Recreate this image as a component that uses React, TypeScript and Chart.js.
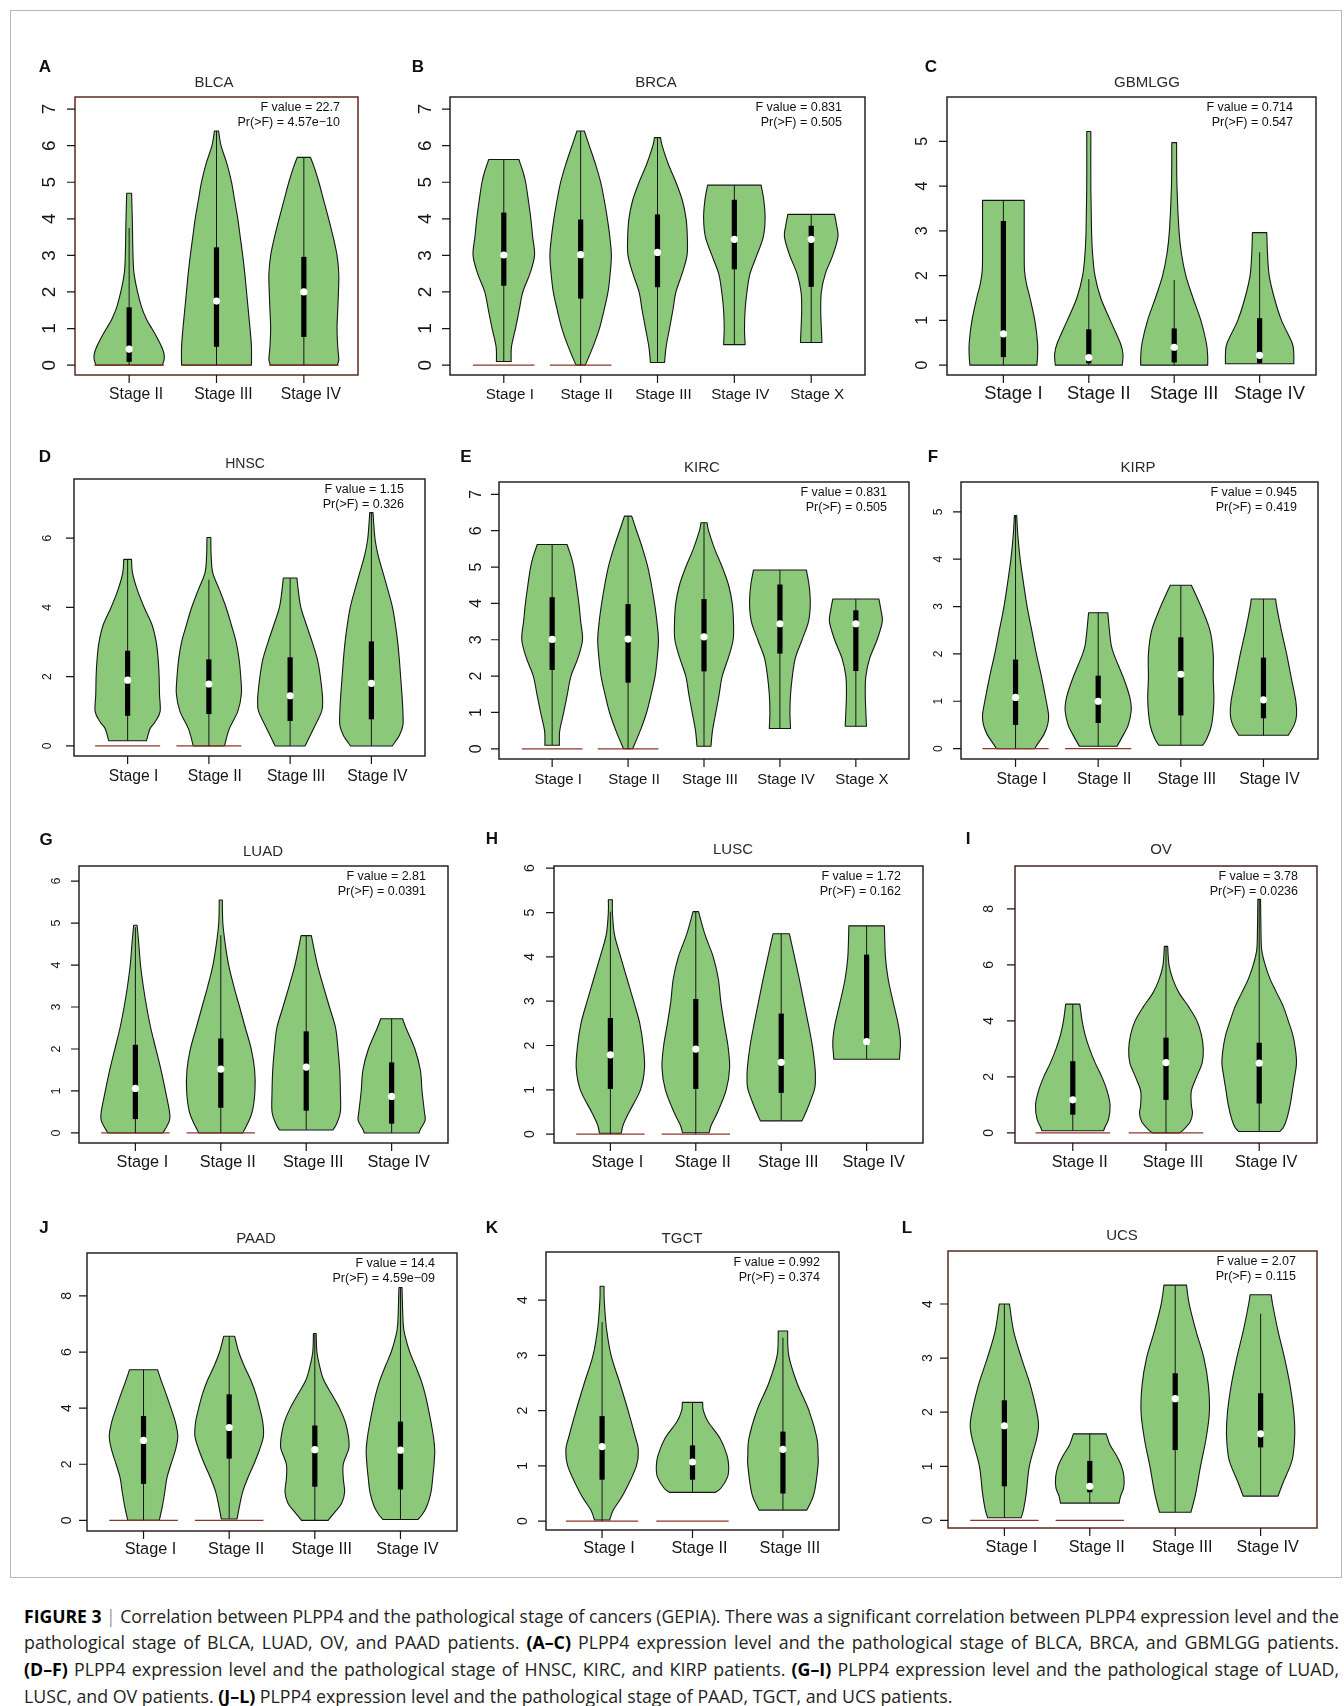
import React, { useEffect, useLayoutEffect, useRef } from 'react';
import { Chart, registerables } from 'chart.js';

Chart.register(...registerables);

type Profile = [number, number][];

// ---------- BLCA ----------
const BLCA_STAGES = ['Stage II', 'Stage III', 'Stage IV'];
const BLCA_Y_TICKS = [0, 1, 2, 3, 4, 5, 6, 7];
const BLCA_MEDIAN = [0.44, 1.75, 2.0];
const BLCA_Q1 = [0.09, 0.5, 0.77];
const BLCA_Q3 = [1.58, 3.22, 2.96];
const BLCA_LOW = [0, 0, 0];
const BLCA_HIGH = [3.75, 6.4, 5.68];
const BLCA_ZERO = [true, true, true];
const BLCA_DENSITY: Profile[] = [
  [[0, 0.95], [0.15, 1.0], [0.3, 1.0], [0.5, 0.93], [0.75, 0.8], [1.0, 0.65], [1.25, 0.5], [1.57, 0.36], [2.0, 0.24], [2.5, 0.14], [3.0, 0.11], [4.0, 0.09], [4.7, 0.07]],
  [[0, 1.0], [0.5, 1.0], [1, 0.96], [1.5, 0.91], [2, 0.86], [2.5, 0.81], [3, 0.75], [3.5, 0.68], [4, 0.61], [4.5, 0.52], [5, 0.43], [5.5, 0.3], [6, 0.13], [6.4, 0.06]],
  [[0, 0.95], [0.15, 1.0], [0.5, 0.97], [1, 0.95], [1.5, 0.97], [2, 0.99], [2.5, 1.0], [3, 0.95], [3.5, 0.84], [4, 0.71], [4.5, 0.57], [5, 0.43], [5.4, 0.3], [5.68, 0.19]],
];
const BLCA_STATS = ['F value = 22.7', 'Pr(>F) = 4.57e\u221210'];

// ---------- BRCA ----------
const BRCA_STAGES = ['Stage I', 'Stage II', 'Stage III', 'Stage IV', 'Stage X'];
const BRCA_Y_TICKS = [0, 1, 2, 3, 4, 5, 6, 7];
const BRCA_MEDIAN = [3.01, 3.02, 3.08, 3.44, 3.44];
const BRCA_Q1 = [2.17, 1.82, 2.13, 2.62, 2.14];
const BRCA_Q3 = [4.17, 3.98, 4.12, 4.52, 3.81];
const BRCA_LOW = [0.1, 0, 0.07, 0.56, 0.62];
const BRCA_HIGH = [5.62, 6.4, 6.22, 4.92, 4.12];
const BRCA_ZERO = [true, true, false, false, false];
const BRCA_DENSITY: Profile[] = [
  [[0.1, 0.24], [0.5, 0.25], [1, 0.38], [1.5, 0.5], [2, 0.62], [2.5, 0.85], [3, 1.0], [3.5, 0.94], [4, 0.88], [4.5, 0.8], [5, 0.71], [5.3, 0.62], [5.62, 0.49]],
  [[0, 0.15], [0.5, 0.4], [1, 0.61], [1.5, 0.76], [2, 0.89], [2.5, 0.96], [3, 1.0], [3.5, 0.95], [4, 0.87], [4.5, 0.77], [5, 0.65], [5.5, 0.48], [6, 0.28], [6.4, 0.12]],
  [[0.07, 0.23], [0.5, 0.28], [1, 0.39], [1.5, 0.5], [2, 0.6], [2.5, 0.8], [3, 0.96], [3.5, 0.97], [4, 0.93], [4.5, 0.81], [5, 0.6], [5.5, 0.35], [6, 0.15], [6.22, 0.1]],
  [[0.56, 0.35], [1, 0.33], [1.5, 0.35], [2, 0.41], [2.5, 0.51], [3, 0.73], [3.5, 0.94], [4, 1.0], [4.5, 0.96], [4.92, 0.87]],
  [[0.62, 0.35], [1, 0.33], [1.5, 0.31], [2, 0.33], [2.5, 0.46], [3, 0.7], [3.5, 0.87], [3.8, 0.83], [4.12, 0.76]],
];
const BRCA_STATS = ['F value = 0.831', 'Pr(>F) = 0.505'];

// ---------- GBMLGG ----------
const GBMLGG_STAGES = ['Stage I', 'Stage II', 'Stage III', 'Stage IV'];
const GBMLGG_Y_TICKS = [0, 1, 2, 3, 4, 5];
const GBMLGG_MEDIAN = [0.7, 0.17, 0.4, 0.22];
const GBMLGG_Q1 = [0.18, 0.04, 0.06, 0.05];
const GBMLGG_Q3 = [3.22, 0.8, 0.82, 1.05];
const GBMLGG_LOW = [0, 0, 0, 0.03];
const GBMLGG_HIGH = [3.68, 1.92, 1.9, 2.52];
const GBMLGG_ZERO = [false, false, false, false];
const GBMLGG_DENSITY: Profile[] = [
  [[0, 0.98], [0.2, 1.0], [0.5, 1.0], [1, 0.92], [1.5, 0.78], [1.8, 0.68], [2.1, 0.62], [2.5, 0.61], [3, 0.61], [3.68, 0.61]],
  [[0, 0.98], [0.25, 1.0], [0.5, 0.92], [1, 0.63], [1.5, 0.35], [2, 0.18], [2.5, 0.11], [3, 0.08], [4, 0.06], [5.22, 0.06]],
  [[0, 0.98], [0.2, 0.98], [0.5, 0.94], [1, 0.78], [1.5, 0.55], [2, 0.34], [2.5, 0.21], [3, 0.14], [4, 0.08], [4.97, 0.07]],
  [[0.03, 1.0], [0.25, 1.0], [0.5, 0.95], [1, 0.64], [1.5, 0.43], [2, 0.28], [2.5, 0.23], [2.96, 0.21]],
];
const GBMLGG_STATS = ['F value = 0.714', 'Pr(>F) = 0.547'];

// ---------- HNSC ----------
const HNSC_STAGES = ['Stage I', 'Stage II', 'Stage III', 'Stage IV'];
const HNSC_Y_TICKS = [0, 2, 4, 6];
const HNSC_MEDIAN = [1.9, 1.79, 1.45, 1.81];
const HNSC_Q1 = [0.87, 0.92, 0.72, 0.77];
const HNSC_Q3 = [2.75, 2.5, 2.56, 3.02];
const HNSC_LOW = [0.15, 0, 0, 0];
const HNSC_HIGH = [5.39, 4.8, 4.85, 6.74];
const HNSC_ZERO = [true, true, false, false];
const HNSC_DENSITY: Profile[] = [
  [[0.15, 0.58], [0.5, 0.69], [0.7, 0.85], [1, 1.0], [1.5, 0.98], [2, 0.97], [2.5, 0.94], [3, 0.88], [3.5, 0.75], [4, 0.51], [4.5, 0.3], [5, 0.15], [5.39, 0.12]],
  [[0, 0.48], [0.5, 0.63], [1, 0.89], [1.5, 1.0], [2, 0.98], [2.5, 0.93], [3, 0.84], [3.5, 0.69], [4, 0.53], [4.5, 0.33], [5, 0.12], [5.5, 0.07], [6.02, 0.06]],
  [[0, 0.46], [0.5, 0.72], [1, 0.97], [1.3, 1.0], [1.5, 0.99], [2, 0.93], [2.5, 0.84], [3, 0.68], [3.5, 0.5], [4, 0.33], [4.5, 0.25], [4.85, 0.21]],
  [[0, 0.64], [0.3, 0.86], [0.6, 0.97], [1, 0.97], [1.5, 0.94], [2, 0.9], [2.5, 0.86], [3, 0.81], [3.5, 0.74], [4, 0.65], [4.5, 0.51], [5, 0.36], [5.5, 0.21], [6, 0.11], [6.74, 0.05]],
];
const HNSC_STATS = ['F value = 1.15', 'Pr(>F) = 0.326'];

// ---------- KIRC ----------
const KIRC_STAGES = ['Stage I', 'Stage II', 'Stage III', 'Stage IV', 'Stage X'];
const KIRC_Y_TICKS = [0, 1, 2, 3, 4, 5, 6, 7];
const KIRC_MEDIAN = [3.01, 3.02, 3.08, 3.44, 3.44];
const KIRC_Q1 = [2.17, 1.82, 2.13, 2.62, 2.14];
const KIRC_Q3 = [4.17, 3.98, 4.12, 4.52, 3.81];
const KIRC_LOW = [0.1, 0, 0.07, 0.56, 0.62];
const KIRC_HIGH = [5.62, 6.4, 6.22, 4.92, 4.12];
const KIRC_ZERO = [true, true, false, false, false];
const KIRC_DENSITY: Profile[] = [
  [[0.1, 0.24], [0.5, 0.25], [1, 0.38], [1.5, 0.5], [2, 0.62], [2.5, 0.85], [3, 1.0], [3.5, 0.94], [4, 0.88], [4.5, 0.8], [5, 0.71], [5.3, 0.62], [5.62, 0.49]],
  [[0, 0.15], [0.5, 0.4], [1, 0.61], [1.5, 0.76], [2, 0.89], [2.5, 0.96], [3, 1.0], [3.5, 0.95], [4, 0.87], [4.5, 0.77], [5, 0.65], [5.5, 0.48], [6, 0.28], [6.4, 0.12]],
  [[0.07, 0.23], [0.5, 0.28], [1, 0.39], [1.5, 0.5], [2, 0.6], [2.5, 0.8], [3, 0.96], [3.5, 0.97], [4, 0.93], [4.5, 0.81], [5, 0.6], [5.5, 0.35], [6, 0.15], [6.22, 0.1]],
  [[0.56, 0.35], [1, 0.33], [1.5, 0.35], [2, 0.41], [2.5, 0.51], [3, 0.73], [3.5, 0.94], [4, 1.0], [4.5, 0.96], [4.92, 0.87]],
  [[0.62, 0.35], [1, 0.33], [1.5, 0.31], [2, 0.33], [2.5, 0.46], [3, 0.7], [3.5, 0.87], [3.8, 0.83], [4.12, 0.76]],
];
const KIRC_STATS = ['F value = 0.831', 'Pr(>F) = 0.505'];

// ---------- KIRP ----------
const KIRP_STAGES = ['Stage I', 'Stage II', 'Stage III', 'Stage IV'];
const KIRP_Y_TICKS = [0, 1, 2, 3, 4, 5];
const KIRP_MEDIAN = [1.08, 1.0, 1.57, 1.03];
const KIRP_Q1 = [0.5, 0.54, 0.7, 0.64];
const KIRP_Q3 = [1.88, 1.54, 2.35, 1.92];
const KIRP_LOW = [0, 0.05, 0.07, 0.28];
const KIRP_HIGH = [4.92, 2.87, 3.45, 3.16];
const KIRP_ZERO = [true, true, false, false];
const KIRP_DENSITY: Profile[] = [
  [[0, 0.58], [0.1, 0.67], [0.3, 0.86], [0.5, 0.97], [0.7, 1.0], [1, 0.93], [1.5, 0.79], [2, 0.63], [2.5, 0.49], [3, 0.35], [3.5, 0.24], [4, 0.14], [4.5, 0.07], [4.92, 0.035]],
  [[0.05, 0.57], [0.3, 0.77], [0.5, 0.91], [0.8, 1.0], [1, 0.98], [1.2, 0.91], [1.5, 0.76], [2, 0.47], [2.2, 0.39], [2.5, 0.34], [2.87, 0.29]],
  [[0.07, 0.66], [0.2, 0.78], [0.5, 0.93], [1, 1.0], [1.5, 0.98], [2, 0.98], [2.5, 0.88], [3, 0.61], [3.45, 0.32]],
  [[0.28, 0.75], [0.5, 0.93], [0.7, 1.0], [1, 0.98], [1.5, 0.84], [2, 0.7], [2.5, 0.54], [3, 0.4], [3.16, 0.37]],
];
const KIRP_STATS = ['F value = 0.945', 'Pr(>F) = 0.419'];

// ---------- LUAD ----------
const LUAD_STAGES = ['Stage I', 'Stage II', 'Stage III', 'Stage IV'];
const LUAD_Y_TICKS = [0, 1, 2, 3, 4, 5, 6];
const LUAD_MEDIAN = [1.06, 1.52, 1.57, 0.87];
const LUAD_Q1 = [0.33, 0.6, 0.53, 0.22];
const LUAD_Q3 = [2.1, 2.25, 2.42, 1.68];
const LUAD_LOW = [0, 0, 0.07, 0];
const LUAD_HIGH = [4.9, 4.71, 4.7, 2.72];
const LUAD_ZERO = [true, true, false, false];
const LUAD_DENSITY: Profile[] = [
  [[0, 0.8], [0.1, 0.88], [0.3, 1.0], [0.5, 1.0], [1, 0.88], [1.5, 0.75], [2, 0.6], [2.5, 0.45], [3, 0.33], [3.5, 0.23], [4, 0.15], [4.5, 0.1], [4.95, 0.05]],
  [[0, 0.64], [0.2, 0.77], [0.5, 0.92], [1, 1.0], [1.5, 0.99], [2, 0.89], [2.5, 0.72], [3, 0.55], [3.5, 0.38], [4, 0.23], [4.5, 0.13], [5, 0.06], [5.55, 0.045]],
  [[0.07, 0.78], [0.2, 0.88], [0.5, 1.0], [1, 1.0], [1.5, 0.98], [2, 0.93], [2.5, 0.86], [3, 0.68], [3.5, 0.5], [4, 0.33], [4.5, 0.2], [4.7, 0.15]],
  [[0, 0.8], [0.1, 0.85], [0.3, 0.98], [0.5, 0.96], [1, 0.89], [1.5, 0.84], [2, 0.68], [2.5, 0.42], [2.72, 0.32]],
];
const LUAD_STATS = ['F value = 2.81', 'Pr(>F) = 0.0391'];

// ---------- LUSC ----------
const LUSC_STAGES = ['Stage I', 'Stage II', 'Stage III', 'Stage IV'];
const LUSC_Y_TICKS = [0, 1, 2, 3, 4, 5, 6];
const LUSC_MEDIAN = [1.79, 1.92, 1.62, 2.09];
const LUSC_Q1 = [1.02, 1.02, 0.93, 2.11];
const LUSC_Q3 = [2.62, 3.05, 2.72, 4.05];
const LUSC_LOW = [0, 0, 0.3, 1.69];
const LUSC_HIGH = [5.02, 5.02, 4.52, 4.7];
const LUSC_ZERO = [true, true, false, false];
const LUSC_DENSITY: Profile[] = [
  [[0.02, 0.32], [0.2, 0.37], [0.5, 0.55], [1, 0.88], [1.5, 1.0], [2, 0.96], [2.5, 0.86], [3, 0.68], [3.5, 0.49], [4, 0.3], [4.5, 0.12], [5, 0.06], [5.29, 0.06]],
  [[0.03, 0.39], [0.2, 0.45], [0.5, 0.64], [1, 0.89], [1.5, 0.99], [2, 0.94], [2.5, 0.83], [3, 0.73], [3.5, 0.66], [4, 0.51], [4.5, 0.27], [5.02, 0.08]],
  [[0.3, 0.61], [0.6, 0.78], [1, 0.97], [1.2, 1.0], [1.5, 0.99], [2, 0.91], [2.5, 0.79], [3, 0.66], [3.5, 0.53], [4, 0.39], [4.52, 0.24]],
  [[1.69, 0.96], [1.8, 0.97], [2, 0.99], [2.2, 0.98], [2.5, 0.92], [3, 0.77], [3.5, 0.63], [4, 0.55], [4.7, 0.52]],
];
const LUSC_STATS = ['F value = 1.72', 'Pr(>F) = 0.162'];

// ---------- OV ----------
const OV_STAGES = ['Stage II', 'Stage III', 'Stage IV'];
const OV_Y_TICKS = [0, 2, 4, 6, 8];
const OV_MEDIAN = [1.18, 2.51, 2.49];
const OV_Q1 = [0.65, 1.18, 1.05];
const OV_Q3 = [2.56, 3.4, 3.22];
const OV_LOW = [0.08, 0, 0.05];
const OV_HIGH = [4.6, 6.66, 8.34];
const OV_ZERO = [true, true, false];
const OV_DENSITY: Profile[] = [
  [[0.08, 0.83], [0.2, 0.86], [0.5, 0.96], [1, 1.0], [1.5, 0.92], [2, 0.78], [2.5, 0.6], [3, 0.45], [3.5, 0.33], [4, 0.25], [4.6, 0.19]],
  [[0, 0.36], [0.1, 0.46], [0.4, 0.65], [0.7, 0.71], [1, 0.68], [1.5, 0.68], [2, 0.82], [2.5, 0.97], [3, 1.0], [3.5, 0.95], [4, 0.83], [4.5, 0.61], [5, 0.35], [5.5, 0.18], [6, 0.08], [6.66, 0.045]],
  [[0.05, 0.55], [0.2, 0.65], [0.5, 0.74], [1, 0.83], [1.5, 0.89], [2, 0.95], [2.5, 1.0], [3, 0.97], [3.5, 0.9], [4, 0.78], [4.5, 0.65], [5, 0.47], [5.5, 0.29], [6, 0.16], [6.5, 0.07], [7, 0.05], [8.34, 0.036]],
];
const OV_STATS = ['F value = 3.78', 'Pr(>F) = 0.0236'];

// ---------- PAAD ----------
const PAAD_STAGES = ['Stage I', 'Stage II', 'Stage III', 'Stage IV'];
const PAAD_Y_TICKS = [0, 2, 4, 6, 8];
const PAAD_MEDIAN = [2.85, 3.31, 2.52, 2.5];
const PAAD_Q1 = [1.3, 2.2, 1.2, 1.1];
const PAAD_Q3 = [3.72, 4.49, 3.38, 3.52];
const PAAD_LOW = [0, 0.05, 0, 0.03];
const PAAD_HIGH = [5.37, 6.56, 6.66, 8.3];
const PAAD_ZERO = [true, true, false, false];
const PAAD_DENSITY: Profile[] = [
  [[0, 0.46], [0.5, 0.55], [1, 0.62], [1.5, 0.68], [2, 0.8], [2.5, 0.93], [3, 1.0], [3.5, 0.93], [4, 0.8], [4.5, 0.66], [5, 0.51], [5.37, 0.41]],
  [[0.05, 0.23], [0.5, 0.3], [1, 0.39], [1.5, 0.54], [2, 0.72], [2.5, 0.88], [3, 1.0], [3.5, 0.98], [4, 0.89], [4.5, 0.78], [5, 0.63], [5.5, 0.44], [6, 0.28], [6.56, 0.16]],
  [[0, 0.39], [0.3, 0.59], [0.6, 0.78], [1, 0.87], [1.5, 0.83], [2, 0.83], [2.5, 0.98], [2.7, 1.0], [3, 0.98], [3.5, 0.89], [4, 0.72], [4.5, 0.49], [5, 0.26], [5.5, 0.14], [6, 0.06], [6.66, 0.04]],
  [[0.03, 0.51], [0.2, 0.63], [0.5, 0.77], [1, 0.89], [1.5, 0.94], [2, 0.98], [2.5, 1.0], [3, 0.96], [3.5, 0.89], [4, 0.81], [4.5, 0.72], [5, 0.6], [5.5, 0.44], [6, 0.27], [6.5, 0.15], [7, 0.08], [8.3, 0.045]],
];
const PAAD_STATS = ['F value = 14.4', 'Pr(>F) = 4.59e\u221209'];

// ---------- TGCT ----------
const TGCT_STAGES = ['Stage I', 'Stage II', 'Stage III'];
const TGCT_Y_TICKS = [0, 1, 2, 3, 4];
const TGCT_MEDIAN = [1.35, 1.07, 1.3];
const TGCT_Q1 = [0.75, 0.75, 0.5];
const TGCT_Q3 = [1.9, 1.37, 1.62];
const TGCT_LOW = [0, 0.52, 0.2];
const TGCT_HIGH = [3.6, 2.15, 3.32];
const TGCT_ZERO = [true, true, false];
const TGCT_DENSITY: Profile[] = [
  [[0.02, 0.21], [0.2, 0.31], [0.5, 0.6], [1, 0.95], [1.3, 1.0], [1.5, 0.93], [2, 0.72], [2.5, 0.49], [3, 0.25], [3.5, 0.12], [4, 0.06], [4.25, 0.055]],
  [[0.52, 0.63], [0.6, 0.79], [0.8, 0.97], [1, 1.0], [1.2, 0.95], [1.5, 0.76], [1.8, 0.43], [2, 0.3], [2.15, 0.28]],
  [[0.2, 0.66], [0.5, 0.86], [1, 0.97], [1.2, 0.97], [1.5, 0.94], [2, 0.72], [2.5, 0.39], [3, 0.16], [3.44, 0.13]],
];
const TGCT_STATS = ['F value = 0.992', 'Pr(>F) = 0.374'];

// ---------- UCS ----------
const UCS_STAGES = ['Stage I', 'Stage II', 'Stage III', 'Stage IV'];
const UCS_Y_TICKS = [0, 1, 2, 3, 4];
const UCS_MEDIAN = [1.75, 0.63, 2.25, 1.6];
const UCS_Q1 = [0.63, 0.52, 1.3, 1.35];
const UCS_Q3 = [2.22, 1.1, 2.72, 2.35];
const UCS_LOW = [0.05, 0.32, 0.15, 0.45];
const UCS_HIGH = [4.0, 1.6, 4.35, 3.82];
const UCS_ZERO = [true, true, false, false];
const UCS_DENSITY: Profile[] = [
  [[0.05, 0.49], [0.2, 0.56], [0.5, 0.64], [1, 0.73], [1.5, 0.94], [1.75, 1.0], [2, 0.95], [2.5, 0.76], [3, 0.5], [3.5, 0.27], [4, 0.15]],
  [[0.32, 0.86], [0.45, 0.9], [0.6, 0.99], [0.8, 1.0], [1, 0.93], [1.2, 0.78], [1.4, 0.59], [1.6, 0.48]],
  [[0.15, 0.46], [0.5, 0.6], [1, 0.74], [1.5, 0.9], [2, 1.0], [2.5, 0.97], [3, 0.84], [3.5, 0.61], [4, 0.41], [4.35, 0.33]],
  [[0.45, 0.51], [0.7, 0.66], [1, 0.86], [1.2, 0.95], [1.6, 1.0], [2, 0.97], [2.5, 0.86], [3, 0.7], [3.5, 0.51], [4, 0.35], [4.17, 0.31]],
];
const UCS_STATS = ['F value = 2.07', 'Pr(>F) = 0.115'];

// ---------- caption ----------
const CAPTION_LINES: [string, string][][] = [
  [['b', 'FIGURE 3'], ['sep', ' | '], ['t', 'Correlation between PLPP4 and the pathological stage of cancers (GEPIA). There was a significant correlation between PLPP4 expression level and the']],
  [['t', 'pathological stage of BLCA, LUAD, OV, and PAAD patients. '], ['b', '(A\u2013C)'], ['t', ' PLPP4 expression level and the pathological stage of BLCA, BRCA, and GBMLGG patients.']],
  [['b', '(D\u2013F)'], ['t', ' PLPP4 expression level and the pathological stage of HNSC, KIRC, and KIRP patients. '], ['b', '(G\u2013I)'], ['t', ' PLPP4 expression level and the pathological stage of LUAD,']],
  [['t', 'LUSC, and OV patients. '], ['b', '(J\u2013L)'], ['t', ' PLPP4 expression level and the pathological stage of PAAD, TGCT, and UCS patients.']],
];

// ---------- drawing styles and placement ----------
const FONT = '"Liberation Sans", Arial, Helvetica, sans-serif';
const VIOLIN_FILL = '#8cc87a';
const INK = '#161616';
const ZERO_LINE = '#8c3626';
const FRAME_DARK = '#2a2220';
const FRAME_RED = '#5a2a22';
const HALF_WIDTH = 0.4;

type Layout = {
  box: [number, number, number, number];
  yRange: [number, number];
  letterAt: [number, number];
  titleAt: [number, number, number];
  yLabel: [number, number];
  xLabel: [number, number, number];
  statsRight: number;
  frame: string;
};

const LAYOUTS: Record<string, Layout> = {
  A: { box: [75, 97, 358, 375], yRange: [-0.27, 7.33], letterAt: [45, 67], titleAt: [214, 83, 15], yLabel: [50, 19], xLabel: [395, 7, 15.7], statsRight: 340, frame: FRAME_RED },
  B: { box: [450, 97, 865, 375], yRange: [-0.27, 7.33], letterAt: [418, 67], titleAt: [656, 83, 15], yLabel: [426, 19], xLabel: [395, 6, 15.2], statsRight: 842, frame: FRAME_DARK },
  C: { box: [947, 97, 1316, 375], yRange: [-0.22, 5.99], letterAt: [931, 67], titleAt: [1147, 83, 15], yLabel: [923, 16], xLabel: [394, 10, 18.4], statsRight: 1293, frame: FRAME_DARK },
  D: { box: [74, 479, 425, 756], yRange: [-0.29, 7.71], letterAt: [45, 457], titleAt: [245, 464, 14], yLabel: [48, 12], xLabel: [777, 6, 15.7], statsRight: 404, frame: FRAME_DARK },
  E: { box: [499, 482, 909, 759], yRange: [-0.28, 7.34], letterAt: [466, 457], titleAt: [702, 468, 15], yLabel: [477, 16], xLabel: [780, 6, 15], statsRight: 887, frame: FRAME_DARK },
  F: { box: [961, 482, 1318, 759], yRange: [-0.22, 5.63], letterAt: [933, 457], titleAt: [1138, 468, 15], yLabel: [939, 12], xLabel: [780, 6, 15.8], statsRight: 1297, frame: FRAME_DARK },
  G: { box: [79, 866, 448, 1143], yRange: [-0.24, 6.36], letterAt: [46, 840], titleAt: [263, 852, 15], yLabel: [57, 12.5], xLabel: [1163, 7, 16.3], statsRight: 426, frame: FRAME_DARK },
  H: { box: [554, 866, 923, 1143], yRange: [-0.2, 6.05], letterAt: [492, 839], titleAt: [733, 850, 15], yLabel: [530, 14], xLabel: [1163, 7, 16.3], statsRight: 901, frame: FRAME_DARK },
  I: { box: [1015, 866, 1317, 1143], yRange: [-0.36, 9.53], letterAt: [968, 839], titleAt: [1161, 850, 15], yLabel: [989, 14], xLabel: [1163, 7, 16.3], statsRight: 1298, frame: '#44241f' },
  J: { box: [87, 1253, 457, 1531], yRange: [-0.38, 9.53], letterAt: [44, 1228], titleAt: [256, 1239, 15], yLabel: [67, 14], xLabel: [1550, 7, 16.3], statsRight: 435, frame: FRAME_DARK },
  K: { box: [546, 1252, 839, 1530], yRange: [-0.16, 4.87], letterAt: [492, 1228], titleAt: [682, 1239, 15], yLabel: [523, 14], xLabel: [1549, 7, 16.3], statsRight: 820, frame: FRAME_DARK },
  L: { box: [948, 1251, 1317, 1528], yRange: [-0.14, 4.98], letterAt: [907, 1228], titleAt: [1122, 1236, 15], yLabel: [928, 14], xLabel: [1548, 7, 16.3], statsRight: 1296, frame: FRAME_RED },
};

type Panel = {
  letter: string;
  title: string;
  stages: string[];
  ticks: number[];
  median: number[];
  q1: number[];
  q3: number[];
  low: number[];
  high: number[];
  zero: boolean[];
  density: Profile[];
  stats: string[];
};

const PANELS: Panel[] = [
  { letter: 'A', title: 'BLCA', stages: BLCA_STAGES, ticks: BLCA_Y_TICKS, median: BLCA_MEDIAN, q1: BLCA_Q1, q3: BLCA_Q3, low: BLCA_LOW, high: BLCA_HIGH, zero: BLCA_ZERO, density: BLCA_DENSITY, stats: BLCA_STATS },
  { letter: 'B', title: 'BRCA', stages: BRCA_STAGES, ticks: BRCA_Y_TICKS, median: BRCA_MEDIAN, q1: BRCA_Q1, q3: BRCA_Q3, low: BRCA_LOW, high: BRCA_HIGH, zero: BRCA_ZERO, density: BRCA_DENSITY, stats: BRCA_STATS },
  { letter: 'C', title: 'GBMLGG', stages: GBMLGG_STAGES, ticks: GBMLGG_Y_TICKS, median: GBMLGG_MEDIAN, q1: GBMLGG_Q1, q3: GBMLGG_Q3, low: GBMLGG_LOW, high: GBMLGG_HIGH, zero: GBMLGG_ZERO, density: GBMLGG_DENSITY, stats: GBMLGG_STATS },
  { letter: 'D', title: 'HNSC', stages: HNSC_STAGES, ticks: HNSC_Y_TICKS, median: HNSC_MEDIAN, q1: HNSC_Q1, q3: HNSC_Q3, low: HNSC_LOW, high: HNSC_HIGH, zero: HNSC_ZERO, density: HNSC_DENSITY, stats: HNSC_STATS },
  { letter: 'E', title: 'KIRC', stages: KIRC_STAGES, ticks: KIRC_Y_TICKS, median: KIRC_MEDIAN, q1: KIRC_Q1, q3: KIRC_Q3, low: KIRC_LOW, high: KIRC_HIGH, zero: KIRC_ZERO, density: KIRC_DENSITY, stats: KIRC_STATS },
  { letter: 'F', title: 'KIRP', stages: KIRP_STAGES, ticks: KIRP_Y_TICKS, median: KIRP_MEDIAN, q1: KIRP_Q1, q3: KIRP_Q3, low: KIRP_LOW, high: KIRP_HIGH, zero: KIRP_ZERO, density: KIRP_DENSITY, stats: KIRP_STATS },
  { letter: 'G', title: 'LUAD', stages: LUAD_STAGES, ticks: LUAD_Y_TICKS, median: LUAD_MEDIAN, q1: LUAD_Q1, q3: LUAD_Q3, low: LUAD_LOW, high: LUAD_HIGH, zero: LUAD_ZERO, density: LUAD_DENSITY, stats: LUAD_STATS },
  { letter: 'H', title: 'LUSC', stages: LUSC_STAGES, ticks: LUSC_Y_TICKS, median: LUSC_MEDIAN, q1: LUSC_Q1, q3: LUSC_Q3, low: LUSC_LOW, high: LUSC_HIGH, zero: LUSC_ZERO, density: LUSC_DENSITY, stats: LUSC_STATS },
  { letter: 'I', title: 'OV', stages: OV_STAGES, ticks: OV_Y_TICKS, median: OV_MEDIAN, q1: OV_Q1, q3: OV_Q3, low: OV_LOW, high: OV_HIGH, zero: OV_ZERO, density: OV_DENSITY, stats: OV_STATS },
  { letter: 'J', title: 'PAAD', stages: PAAD_STAGES, ticks: PAAD_Y_TICKS, median: PAAD_MEDIAN, q1: PAAD_Q1, q3: PAAD_Q3, low: PAAD_LOW, high: PAAD_HIGH, zero: PAAD_ZERO, density: PAAD_DENSITY, stats: PAAD_STATS },
  { letter: 'K', title: 'TGCT', stages: TGCT_STAGES, ticks: TGCT_Y_TICKS, median: TGCT_MEDIAN, q1: TGCT_Q1, q3: TGCT_Q3, low: TGCT_LOW, high: TGCT_HIGH, zero: TGCT_ZERO, density: TGCT_DENSITY, stats: TGCT_STATS },
  { letter: 'L', title: 'UCS', stages: UCS_STAGES, ticks: UCS_Y_TICKS, median: UCS_MEDIAN, q1: UCS_Q1, q3: UCS_Q3, low: UCS_LOW, high: UCS_HIGH, zero: UCS_ZERO, density: UCS_DENSITY, stats: UCS_STATS },
];

// canvas margins around each plot box
const PAD_LEFT = 80;
const PAD_TOP = 50;
const PAD_RIGHT = 20;
const PAD_BOTTOM = 45;

const font = (size: number, bold = false) => `${bold ? 'bold ' : ''}${size}px ${FONT}`;

// smooth curve through a list of pixel points (Catmull-Rom as cubic Béziers)
function traceSpline(ctx: CanvasRenderingContext2D, pts: { x: number; y: number }[]) {
  for (let i = 0; i < pts.length - 1; i++) {
    const p0 = pts[Math.max(i - 1, 0)];
    const p1 = pts[i];
    const p2 = pts[i + 1];
    const p3 = pts[Math.min(i + 2, pts.length - 1)];
    ctx.bezierCurveTo(
      p1.x + (p2.x - p0.x) / 6, p1.y + (p2.y - p0.y) / 6,
      p2.x - (p3.x - p1.x) / 6, p2.y - (p3.y - p1.y) / 6,
      p2.x, p2.y,
    );
  }
}

function violinPlugin(panel: Panel, layout: Layout, ox: number, oy: number) {
  return {
    id: 'violins',
    beforeDatasetsDraw(chart: any) {
      const ctx: CanvasRenderingContext2D = chart.ctx;
      const xs = chart.scales.x;
      const ys = chart.scales.y;
      ctx.save();
      panel.density.forEach((prof, i) => {
        const c = i + 1;
        const right = prof.map(([v, w]) => ({ x: xs.getPixelForValue(c + HALF_WIDTH * w), y: ys.getPixelForValue(v) }));
        const left = prof.map(([v, w]) => ({ x: xs.getPixelForValue(c - HALF_WIDTH * w), y: ys.getPixelForValue(v) })).reverse();
        ctx.beginPath();
        ctx.moveTo(left[left.length - 1].x, left[left.length - 1].y);
        ctx.lineTo(right[0].x, right[0].y);
        traceSpline(ctx, right);
        ctx.lineTo(left[0].x, left[0].y);
        traceSpline(ctx, left);
        ctx.closePath();
        ctx.fillStyle = VIOLIN_FILL;
        ctx.fill();
        ctx.lineWidth = 1.1;
        ctx.strokeStyle = INK;
        ctx.lineJoin = 'round';
        ctx.stroke();

        if (panel.zero[i]) {
          const y0 = ys.getPixelForValue(0);
          ctx.beginPath();
          ctx.moveTo(xs.getPixelForValue(c - HALF_WIDTH), y0);
          ctx.lineTo(xs.getPixelForValue(c + HALF_WIDTH), y0);
          ctx.strokeStyle = ZERO_LINE;
          ctx.lineWidth = 1.2;
          ctx.stroke();
        }

        const cx = xs.getPixelForValue(c);
        ctx.beginPath();
        ctx.moveTo(cx, ys.getPixelForValue(panel.low[i]));
        ctx.lineTo(cx, ys.getPixelForValue(panel.high[i]));
        ctx.strokeStyle = INK;
        ctx.lineWidth = 1;
        ctx.stroke();

        const yTop = ys.getPixelForValue(panel.q3[i]);
        const yBot = ys.getPixelForValue(panel.q1[i]);
        ctx.fillStyle = '#000';
        ctx.fillRect(cx - 2.6, yTop, 5.2, yBot - yTop);
      });
      ctx.restore();
    },
    afterDraw(chart: any) {
      const ctx: CanvasRenderingContext2D = chart.ctx;
      const xs = chart.scales.x;
      const ys = chart.scales.y;
      const area = chart.chartArea;
      ctx.save();

      // plot frame
      ctx.strokeStyle = layout.frame;
      ctx.lineWidth = 1.5;
      ctx.strokeRect(area.left, area.top, area.right - area.left, area.bottom - area.top);

      // ticks
      ctx.strokeStyle = INK;
      ctx.lineWidth = 1.2;
      ctx.beginPath();
      panel.ticks.forEach((t) => {
        const y = ys.getPixelForValue(t);
        ctx.moveTo(area.left - 8, y);
        ctx.lineTo(area.left, y);
      });
      panel.stages.forEach((_, i) => {
        const x = xs.getPixelForValue(i + 1);
        ctx.moveTo(x, area.bottom);
        ctx.lineTo(x, area.bottom + 8);
      });
      ctx.stroke();

      ctx.fillStyle = INK;
      ctx.textAlign = 'center';
      ctx.textBaseline = 'middle';

      // y tick labels, rotated as in base R graphics
      ctx.font = font(layout.yLabel[1]);
      panel.ticks.forEach((t) => {
        ctx.save();
        ctx.translate(layout.yLabel[0] - ox, ys.getPixelForValue(t));
        ctx.rotate(-Math.PI / 2);
        ctx.fillText(String(t), 0, 0);
        ctx.restore();
      });

      // category labels
      ctx.font = font(layout.xLabel[2]);
      panel.stages.forEach((s, i) => {
        ctx.fillText(s, xs.getPixelForValue(i + 1) + layout.xLabel[1], layout.xLabel[0] - oy);
      });

      // title
      ctx.fillStyle = '#2a2a2a';
      ctx.font = font(layout.titleAt[2]);
      ctx.fillText(panel.title, layout.titleAt[0] - ox, layout.titleAt[1] - oy);

      // panel letter
      ctx.fillStyle = '#111';
      ctx.font = font(17, true);
      ctx.fillText(panel.letter, layout.letterAt[0] - ox, layout.letterAt[1] - oy);

      // ANOVA statistics
      ctx.fillStyle = '#111';
      ctx.font = font(12.5);
      ctx.textAlign = 'right';
      ctx.fillText(panel.stats[0], layout.statsRight - ox, area.top + 11);
      ctx.fillText(panel.stats[1], layout.statsRight - ox, area.top + 26);

      ctx.restore();
    },
  };
}

function ViolinPanel({ panel }: { panel: Panel }) {
  const ref = useRef<HTMLCanvasElement>(null);
  const layout = LAYOUTS[panel.letter];
  const [l, t, r, b] = layout.box;
  const ox = l - PAD_LEFT;
  const oy = t - PAD_TOP;
  const w = r - l + PAD_LEFT + PAD_RIGHT;
  const h = b - t + PAD_TOP + PAD_BOTTOM;
  const n = panel.stages.length;

  useEffect(() => {
    const canvas = ref.current;
    if (!canvas) return;
    const chart = new Chart(canvas, {
      type: 'scatter',
      data: {
        datasets: [
          {
            label: 'median',
            data: panel.median.map((m, i) => ({ x: i + 1, y: m })),
            pointRadius: 3.6,
            pointHoverRadius: 3.6,
            pointBackgroundColor: '#ffffff',
            pointBorderColor: '#ffffff',
            pointBorderWidth: 0,
            showLine: false,
          },
        ],
      },
      options: {
        animation: false,
        responsive: false,
        maintainAspectRatio: false,
        devicePixelRatio: 1,
        events: [],
        layout: {
          autoPadding: false,
          padding: { left: PAD_LEFT, top: PAD_TOP, right: PAD_RIGHT, bottom: PAD_BOTTOM },
        },
        scales: {
          x: { type: 'linear', display: false, min: 0.5 - 0.04 * n, max: n + 0.5 + 0.04 * n },
          y: { type: 'linear', display: false, min: layout.yRange[0], max: layout.yRange[1] },
        },
        plugins: {
          legend: { display: false },
          tooltip: { enabled: false },
          title: { display: false },
        },
      },
      plugins: [violinPlugin(panel, layout, ox, oy)],
    } as any);
    // repaint once fonts are settled so canvas text uses the intended face
    let alive = true;
    const redraw = () => { if (alive) chart.draw(); };
    if ((document as any).fonts?.ready) (document as any).fonts.ready.then(redraw);
    const timer = setTimeout(redraw, 300);
    return () => {
      alive = false;
      clearTimeout(timer);
      chart.destroy();
    };
  }, [panel]);

  return (
    <canvas
      ref={ref}
      width={w}
      height={h}
      style={{ position: 'absolute', left: ox, top: oy, width: w, height: h, display: 'block' }}
    />
  );
}

const CAPTION_LEFT = 24;
const CAPTION_TOP = 1602.6;
const CAPTION_LINE_HEIGHT = 26.7;
const CAPTION_FONT_SIZE = 17.8;
// column width of the justified lines; the closing line keeps natural spacing
const CAPTION_COLUMN = 1315;

function Caption() {
  const lineRefs = useRef<(HTMLSpanElement | null)[]>([]);

  useLayoutEffect(() => {
    // justify the first three lines: extra word spacing when short,
    // a slight horizontal squeeze when long
    const fit = () => {
      lineRefs.current.forEach((s, i) => {
        if (!s) return;
        s.style.wordSpacing = '0px';
        s.style.transform = 'none';
        if (i >= 3) return;
        const natural = s.getBoundingClientRect().width;
        const gaps = (s.textContent || '').split(' ').length - 1;
        if (natural <= CAPTION_COLUMN) {
          if (gaps > 0) s.style.wordSpacing = `${(CAPTION_COLUMN - natural) / gaps}px`;
        } else {
          s.style.transformOrigin = '0 50%';
          s.style.transform = `scaleX(${CAPTION_COLUMN / natural})`;
        }
      });
    };
    fit();
    const fonts = (document as any).fonts;
    let alive = true;
    const refit = () => { if (alive) fit(); };
    if (fonts?.ready) fonts.ready.then(refit);
    if (fonts?.addEventListener) fonts.addEventListener('loadingdone', refit);
    const t1 = setTimeout(refit, 150);
    const t2 = setTimeout(refit, 600);
    return () => {
      alive = false;
      clearTimeout(t1);
      clearTimeout(t2);
      if (fonts?.removeEventListener) fonts.removeEventListener('loadingdone', refit);
    };
  }, []);

  return (
    <div
      style={{
        position: 'absolute',
        left: CAPTION_LEFT,
        top: CAPTION_TOP,
        fontFamily: '"Open Sans", "Liberation Sans", Arial, sans-serif',
        color: '#231f20',
        fontSize: CAPTION_FONT_SIZE,
      }}
    >
      {CAPTION_LINES.map((line, i) => (
        <div key={i} style={{ height: CAPTION_LINE_HEIGHT, lineHeight: `${CAPTION_LINE_HEIGHT}px`, whiteSpace: 'pre' }}>
          <span ref={(el) => { lineRefs.current[i] = el; }} style={{ display: 'inline-block' }}>
            {line.map(([kind, text], j) =>
              kind === 'b' ? (
                <b key={j} style={{ color: '#000' }}>{text}</b>
              ) : kind === 'sep' ? (
                <span key={j} style={{ color: '#9a9a9a' }}>{text}</span>
              ) : (
                <span key={j}>{text}</span>
              ),
            )}
          </span>
        </div>
      ))}
    </div>
  );
}

export default function App() {
  return (
    <div style={{ position: 'absolute', left: 0, top: 0, width: 1344, height: 1706, background: '#fff', overflow: 'hidden' }}>
      <div
        style={{
          position: 'absolute',
          left: 10,
          top: 10,
          width: 1332,
          height: 1568,
          border: '1px solid #b8b8b8',
          boxSizing: 'border-box',
        }}
      />
      {PANELS.map((p) => (
        <ViolinPanel key={p.letter} panel={p} />
      ))}
      <Caption />
    </div>
  );
}
